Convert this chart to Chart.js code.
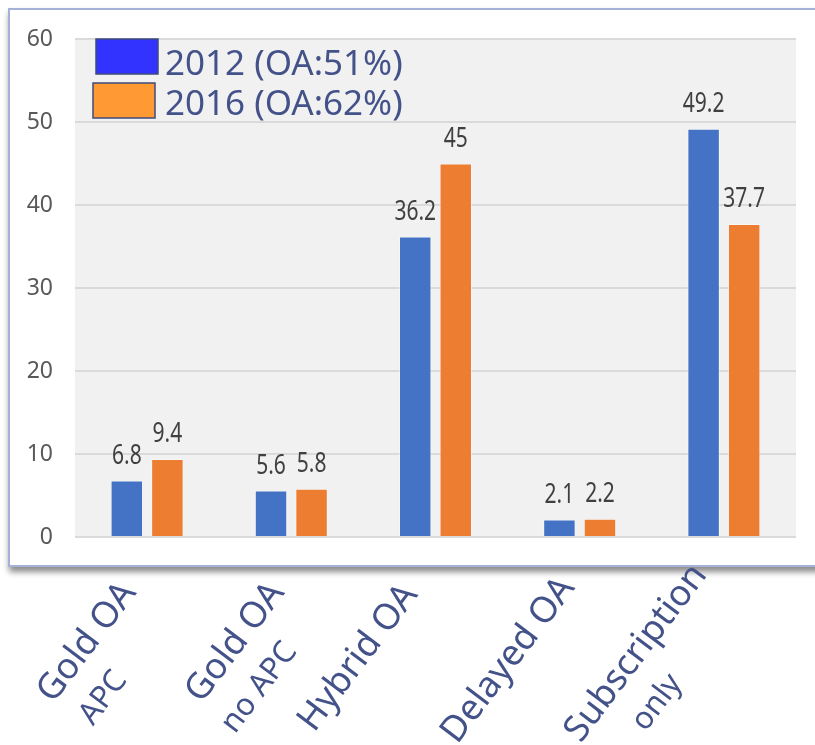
<!DOCTYPE html>
<html>
<head>
<meta charset="utf-8">
<script src="https://cdn.jsdelivr.net/npm/chart.js@4.4.1/dist/chart.umd.min.js"></script>
<style>
    html, body { margin: 0; padding: 0; background: #fff; }
    #wrap { position: relative; width: 815px; height: 745px; overflow: hidden; }
    #frame {
        position: absolute; left: 8px; top: 8px; width: 840px; height: 555px;
        border: 2px solid #a5b2d8; background: #fff;
        box-shadow: 1px 5px 6px rgba(0, 0, 0, 0.45);
    }
    #grafico { position: absolute; left: 0; top: 0; }
</style>
</head>
<body>
<div id="wrap">
    <div id="frame"></div>
    <canvas id="grafico" width="815" height="745"></canvas>
</div>
<script>
// Datos del gráfico
const categorias = [['Gold OA', 'APC'], ['Gold OA', 'no APC'], ['Hybrid OA'], ['Delayed OA'], ['Subscription', 'only']];
const serie2012 = [6.8, 5.6, 36.2, 2.1, 49.2];
const serie2016 = [9.4, 5.8, 45, 2.2, 37.7];
const leyendas = ['2012 (OA:51%)', '2016 (OA:62%)'];
const yTicks = [0, 10, 20, 30, 40, 50, 60];

const colorTexto = '#44528a';
const fuente = '"Noto Sans", sans-serif';

// fondo gris del área de trazado
const fondoPlugin = {
    id: 'fondo',
    beforeDraw(chart) {
        const { ctx, chartArea: a } = chart;
        ctx.save();
        ctx.fillStyle = '#f1f1f1';
        ctx.fillRect(a.left, a.top, a.right - a.left, a.bottom - a.top);
        ctx.restore();
    }
};

// valores encima de cada barra (texto estrecho)
const valoresPlugin = {
    id: 'valores',
    afterDatasetsDraw(chart) {
        const ctx = chart.ctx;
        ctx.save();
        ctx.font = '28px ' + fuente;
        ctx.fillStyle = '#404040';
        ctx.textAlign = 'center';
        ctx.textBaseline = 'alphabetic';
        chart.data.datasets.forEach((ds, i) => {
            chart.getDatasetMeta(i).data.forEach((bar, j) => {
                ctx.save();
                ctx.translate(bar.x, bar.y - 17);
                ctx.scale(0.75, 1);
                ctx.fillText(String(ds.data[j]), 0, 0);
                ctx.restore();
            });
        });
        ctx.restore();
    }
};

// leyenda superpuesta sobre el área de trazado
const leyendaPlugin = {
    id: 'leyendaPropia',
    afterDraw(chart) {
        const { ctx, chartArea: a } = chart;
        const cajas = [
            { x: a.left + 21, y: a.top, color: '#3333ff' },
            { x: a.left + 18, y: a.top + 44, color: '#ff9933' }
        ];
        ctx.save();
        cajas.forEach((c, i) => {
            ctx.fillStyle = c.color;
            ctx.fillRect(c.x, c.y, 62, 35);
            ctx.strokeStyle = '#3e4b7c';
            ctx.lineWidth = 1.5;
            ctx.strokeRect(c.x, c.y, 62, 35);
            ctx.font = '35px ' + fuente;
            ctx.fillStyle = colorTexto;
            ctx.textBaseline = 'alphabetic';
            ctx.fillText(leyendas[i], a.left + 90, a.top + 36 + i * 40);
        });
        ctx.restore();
    }
};

// etiquetas del eje X, giradas
const ejeXPlugin = {
    id: 'ejeX',
    afterDraw(chart) {
        const ctx = chart.ctx;
        const xScale = chart.scales.x;
        const ajusteX = [0, 4, -7, 6, -6];
        const ajusteY = [3, 3, 5, -2, -15];
        const sangria = [6, -4, 0, 0, 48];
        ctx.save();
        ctx.fillStyle = colorTexto;
        ctx.textBaseline = 'alphabetic';
        categorias.forEach((lineas, i) => {
            const px = xScale.getPixelForValue(i) - 10 + ajusteX[i];
            ctx.save();
            ctx.translate(px, 590 + ajusteY[i]);
            ctx.rotate(-53 * Math.PI / 180);
            ctx.font = '36px ' + fuente;
            ctx.textAlign = 'right';
            ctx.fillText(lineas[0], 0, 0);
            const w = ctx.measureText(lineas[0]).width;
            if (lineas[1]) {
                ctx.font = '31px ' + fuente;
                ctx.textAlign = 'left';
                ctx.fillText(lineas[1], -w + sangria[i], 45);
            }
            ctx.restore();
        });
        ctx.restore();
    }
};

new Chart(document.getElementById('grafico'), {
    type: 'bar',
    data: {
        labels: categorias,
        datasets: [
            {
                label: leyendas[0],
                data: serie2012,
                backgroundColor: '#4472c4',
                borderColor: 'rgba(255,255,255,0.45)',
                borderWidth: 1,
                barPercentage: 0.8,
                categoryPercentage: 0.5625
            },
            {
                label: leyendas[1],
                data: serie2016,
                backgroundColor: '#ed7d31',
                borderColor: 'rgba(255,255,255,0.45)',
                borderWidth: 1,
                barPercentage: 0.8,
                categoryPercentage: 0.5625
            }
        ]
    },
    options: {
        responsive: false,
        animation: false,
        layout: { padding: { left: 0, right: 19, top: 39, bottom: 208 } },
        scales: {
            x: { display: false },
            y: {
                min: 0,
                max: 60,
                afterBuildTicks(scale) {
                    scale.ticks = yTicks.map(v => ({ value: v }));
                },
                afterFit(scale) {
                    scale.width = 75;
                },
                border: { display: false },
                grid: { color: '#dadada', lineWidth: 2, drawTicks: false },
                ticks: {
                    padding: 22,
                    color: '#595959',
                    font: { family: fuente, size: 23 }
                }
            }
        },
        plugins: {
            legend: { display: false },
            tooltip: { enabled: false }
        }
    },
    plugins: [fondoPlugin, valoresPlugin, leyendaPlugin, ejeXPlugin]
});
</script>
</body>
</html>
